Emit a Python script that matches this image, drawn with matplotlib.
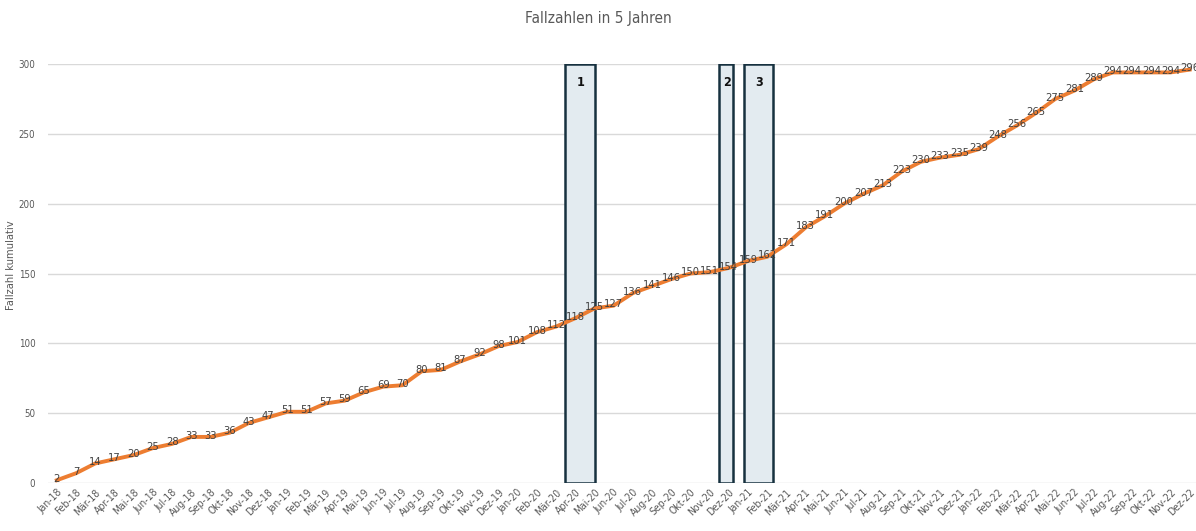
import matplotlib
matplotlib.use("Agg")
import matplotlib.pyplot as plt
from matplotlib.patches import Rectangle

plt.rcParams['font.family'] = ['DejaVu Sans']
plt.rcParams['font.stretch'] = 'condensed'

months = ["Jan", "Feb", "Mär", "Apr", "Mai", "Jun", "Jul", "Aug", "Sep", "Okt", "Nov", "Dez"]
years = ["18", "19", "20", "21", "22"]
labels = [f"{m}-{y}" for y in years for m in months]

values = [2, 7, 14, 17, 20, 25, 28, 33, 33, 36, 43, 47,
          51, 51, 57, 59, 65, 69, 70, 80, 81, 87, 92, 98,
          101, 108, 112, 118, 125, 127, 136, 141, 146, 150, 151, 154,
          159, 162, 171, 183, 191, 200, 207, 213, 223, 230, 233, 235,
          239, 248, 256, 265, 275, 281, 289, 294, 294, 294, 294, 296]

box_names = ["1", "2", "3"]
box_start = [26.45, 34.5, 35.8]
box_end = [28.05, 35.2, 37.3]

fig = plt.figure(figsize=(11.96, 5.31), dpi=100)
ax = fig.add_axes([0.040, 0.0904, 0.960, 0.789])

x = list(range(len(values)))
ax.set_xlim(-0.47, 59.33)
ax.set_ylim(0, 300)

ax.set_yticks([0, 50, 100, 150, 200, 250, 300])
ax.yaxis.grid(True, color='#d9d9d9', linewidth=1)
ax.set_axisbelow(True)
for s in ax.spines.values():
    s.set_visible(False)
ax.tick_params(axis='y', length=0, labelsize=7, labelcolor='#595959', pad=9)
ax.tick_params(axis='x', length=0, labelsize=7.5, labelcolor='#595959', pad=3)
ax.set_xticks(x)
ax.set_xticklabels(labels, rotation=45, ha='right', rotation_mode='anchor')

for name, s, e in zip(box_names, box_start, box_end):
    ax.add_patch(Rectangle((s, 0), e - s, 300, facecolor='#e3ebf0', edgecolor='#17313f',
                           linewidth=1.8, zorder=2))
    ax.text((s + e) / 2 + 0.05, 287, name, ha='center', va='center', fontsize=9,
            fontweight='bold', color='#111111', zorder=3)

ax.plot(x, values, color='#ed7d31', linewidth=2.8, zorder=4, solid_joinstyle='round')
for xi, v in zip(x, values):
    ax.text(xi, v + 1, str(v), ha='center', va='center', fontsize=8, color='#404040', zorder=5)

fig.text(0.0095, 0.501, "Fallzahl kumulativ", rotation=90, ha='center', va='center',
         fontsize=8, color='#595959')
fig.text(0.5, 0.966, "Fallzahlen in 5 Jahren", ha='center', va='center', fontsize=11, color='#595959')

fig.savefig("out.png", dpi=100)
